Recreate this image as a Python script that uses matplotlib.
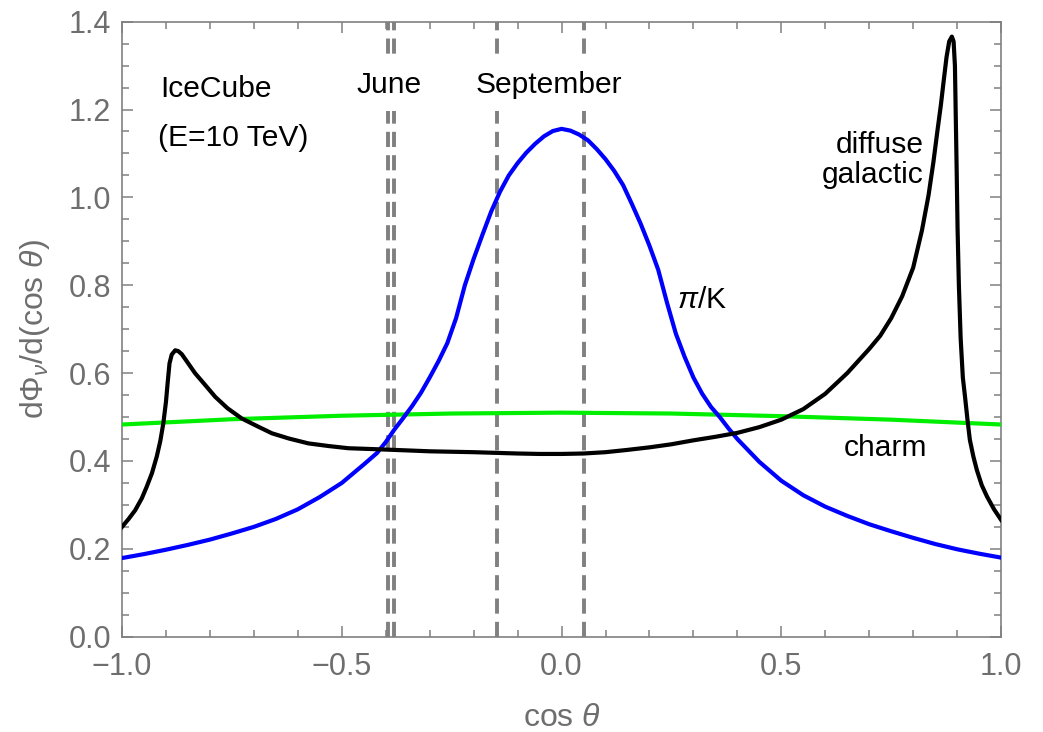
import matplotlib
matplotlib.use("Agg")
import matplotlib.pyplot as plt
from matplotlib.ticker import MultipleLocator

plt.rcParams['font.family'] = ['Liberation Sans', 'DejaVu Sans']
plt.rcParams['mathtext.fontset'] = 'custom'
plt.rcParams['mathtext.rm'] = 'Liberation Sans'
plt.rcParams['mathtext.it'] = 'Liberation Sans:italic'

# pi/K flux (blue)
pik_x = [-1.0, -0.95, -0.9, -0.85, -0.8, -0.75, -0.7, -0.65, -0.6, -0.55, -0.5,
         -0.45, -0.42, -0.4, -0.38, -0.36, -0.34, -0.32, -0.3, -0.28, -0.26,
         -0.24, -0.22, -0.2, -0.18, -0.16, -0.14, -0.12, -0.1, -0.08, -0.06,
         -0.04, -0.02, 0.0, 0.02, 0.04, 0.06, 0.08, 0.1, 0.12, 0.14, 0.16, 0.18,
         0.2, 0.22, 0.24, 0.26, 0.28, 0.3, 0.32, 0.34, 0.36, 0.38, 0.4, 0.45,
         0.5, 0.55, 0.6, 0.65, 0.7, 0.75, 0.8, 0.85, 0.9, 0.95, 1.0]
pik_y = [0.179, 0.188, 0.198, 0.209, 0.221, 0.235, 0.250, 0.268, 0.290, 0.318, 0.350,
         0.392, 0.418, 0.443, 0.472, 0.498, 0.525, 0.555, 0.590, 0.627, 0.668,
         0.725, 0.800, 0.860, 0.915, 0.968, 1.013, 1.050, 1.078, 1.102, 1.122,
         1.139, 1.151, 1.156, 1.152, 1.143, 1.130, 1.110, 1.087, 1.060, 1.028, 0.985, 0.940,
         0.890, 0.835, 0.760, 0.690, 0.637, 0.590, 0.553, 0.523, 0.500, 0.474, 0.450, 0.398,
         0.355, 0.322, 0.296, 0.275, 0.256, 0.240, 0.225, 0.211, 0.199, 0.189, 0.180]

# charm flux (green)
charm_x = [-1.0, -0.75, -0.5, -0.25, 0.0, 0.25, 0.5, 0.75, 1.0]
charm_y = [0.483, 0.495, 0.503, 0.508, 0.510, 0.508, 0.502, 0.494, 0.483]

# diffuse galactic flux (black)
gal_x = [-1.0, -0.985, -0.97, -0.955, -0.944, -0.932, -0.921, -0.913, -0.906, -0.900,
         -0.896, -0.892, -0.887, -0.879, -0.872, -0.864, -0.85, -0.834, -0.81, -0.788,
         -0.76, -0.728, -0.69, -0.659, -0.62, -0.576, -0.53, -0.485, -0.428, -0.35,
         -0.3, -0.2, -0.1, -0.05, 0.0, 0.05, 0.1, 0.148, 0.2, 0.25, 0.3, 0.35, 0.4,
         0.45, 0.5, 0.55, 0.6, 0.65, 0.7, 0.725, 0.75, 0.775, 0.8, 0.82, 0.835, 0.846,
         0.855, 0.863, 0.870, 0.876, 0.882, 0.888, 0.892, 0.895, 0.897, 0.899, 0.901,
         0.904, 0.908, 0.913, 0.918, 0.924, 0.929, 0.937, 0.945, 0.956, 0.968, 0.984, 1.0]
gal_y = [0.250, 0.268, 0.288, 0.315, 0.341, 0.372, 0.410, 0.445, 0.486, 0.535,
         0.580, 0.622, 0.642, 0.652, 0.650, 0.643, 0.623, 0.600, 0.572, 0.546,
         0.520, 0.497, 0.478, 0.463, 0.451, 0.440, 0.434, 0.429, 0.427, 0.424,
         0.422, 0.420, 0.417, 0.416, 0.416, 0.417, 0.420, 0.425, 0.431, 0.438, 0.447, 0.455, 0.464,
         0.477, 0.494, 0.518, 0.553, 0.600, 0.655, 0.685, 0.725, 0.775, 0.840, 0.925, 1.005, 1.080,
         1.150, 1.210, 1.270, 1.320, 1.355, 1.366, 1.355, 1.300, 1.180, 1.060, 0.930,
         0.800, 0.680, 0.590, 0.546, 0.490, 0.448, 0.410, 0.379, 0.345, 0.319, 0.290, 0.266]

june_x = [-0.394, -0.381]
september_x = [-0.146, 0.052]

fig = plt.figure(figsize=(10.43, 7.32), dpi=100)
ax = fig.add_axes([0.117, 0.1302, 0.8428, 0.8402])

lw = 3.0
for xv in june_x + september_x:
    ax.axvline(xv, color='#808080', lw=2.8, dashes=(3.9, 2.1), zorder=1)

ax.plot(charm_x, charm_y, color='#00ee00', lw=lw, zorder=3)
ax.plot(pik_x, pik_y, color='#0000ff', lw=lw, zorder=4)
ax.plot(gal_x, gal_y, color='black', lw=lw, zorder=5, solid_joinstyle='round')

ax.set_xlim(-1, 1)
ax.set_ylim(0, 1.4)
ax.xaxis.set_major_locator(MultipleLocator(0.5))
ax.xaxis.set_minor_locator(MultipleLocator(0.1))
ax.yaxis.set_major_locator(MultipleLocator(0.2))
ax.yaxis.set_minor_locator(MultipleLocator(0.05))
ax.xaxis.set_major_formatter(plt.FuncFormatter(lambda v, p: f"{v:.1f}".replace('-', '\u2212')))
ax.yaxis.set_major_formatter(plt.FuncFormatter(lambda v, p: f"{v:.1f}"))

gray = '#6e6e6e'
for s in ax.spines.values():
    s.set_color('#808080')
    s.set_linewidth(1.2)
ax.tick_params(which='both', direction='in', top=True, right=True, color='#808080',
               labelcolor=gray, labelsize=22, width=1.1)
ax.tick_params(which='major', length=8)
ax.tick_params(which='minor', length=5)
ax.tick_params(axis='x', which='major', pad=11)
ax.tick_params(axis='y', which='major', pad=8)

ax.set_xlabel(r'cos $\theta$', fontsize=23, color=gray, labelpad=15)
ax.set_ylabel(r'd$\Phi_\nu$/d(cos $\theta$)', fontsize=23, color=gray, labelpad=12)

fs = 21.6
box = dict(facecolor='white', edgecolor='none', pad=9)
ax.text(-0.913, 1.229, 'IceCube', fontsize=fs, ha='left', va='baseline')
ax.text(-0.919, 1.117, '(E=10 TeV)', fontsize=fs, ha='left', va='baseline')
ax.text(-0.392, 1.238, 'June', fontsize=fs, ha='center', va='baseline', bbox=box, zorder=2)
ax.text(-0.030, 1.238, 'September', fontsize=fs, ha='center', va='baseline', bbox=box, zorder=2)
ax.text(0.823, 1.100, 'diffuse', fontsize=fs, ha='right', va='baseline')
ax.text(0.823, 1.033, 'galactic', fontsize=fs, ha='right', va='baseline')
ax.text(0.262, 0.748, r'$\pi$/K', fontsize=fs, ha='left', va='baseline')
ax.text(0.641, 0.411, 'charm', fontsize=fs, ha='left', va='baseline')

fig.savefig('out.png', dpi=100)
